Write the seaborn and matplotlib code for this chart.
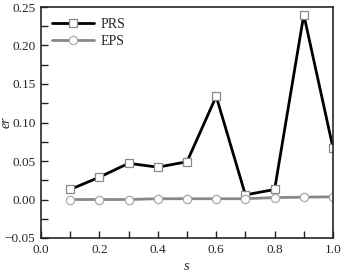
import matplotlib
matplotlib.use("Agg")
import matplotlib.pyplot as plt
import seaborn as sns
import pandas as pd
from matplotlib.ticker import MultipleLocator

s_vals = [0.1, 0.2, 0.3, 0.4, 0.5, 0.6, 0.7, 0.8, 0.9, 1.0]
prs = [0.013, 0.029, 0.047, 0.042, 0.049, 0.134, 0.006, 0.013, 0.240, 0.067]
eps = [0.000, 0.000, 0.000, 0.001, 0.001, 0.001, 0.001, 0.0025, 0.003, 0.0035]

sns.set_style("ticks")
plt.rcParams['font.family'] = ['Liberation Serif', 'DejaVu Serif']

fig = plt.figure(figsize=(3.54, 2.75), dpi=100)
ax = fig.add_axes([41/354, 1-238/275, (333-41)/354, (238-7)/275])

df = pd.DataFrame({"s": s_vals * 2, "er": prs + eps,
                   "method": ["PRS"] * len(s_vals) + ["EPS"] * len(s_vals)})

sns.lineplot(data=df[df.method == "PRS"], x="s", y="er", ax=ax, color="black",
             lw=2, marker="s", markersize=5.5, markerfacecolor="white",
             markeredgecolor="#888888", markeredgewidth=0.9, label="PRS")
sns.lineplot(data=df[df.method == "EPS"], x="s", y="er", ax=ax, color="#888888",
             lw=2, marker="o", markersize=6, markerfacecolor="white",
             markeredgecolor="#aaaaaa", markeredgewidth=0.9, label="EPS")

ax.set_xlim(0.0, 1.0)
ax.set_ylim(-0.05, 0.25)
ax.xaxis.set_major_locator(MultipleLocator(0.2))
ax.xaxis.set_minor_locator(MultipleLocator(0.1))
ax.yaxis.set_major_locator(MultipleLocator(0.05))
ax.yaxis.set_minor_locator(MultipleLocator(0.025))
ax.tick_params(which="both", direction="in", top=False, right=False, labelsize=9.5,
               color="#222222")
ax.tick_params(which="major", length=5, width=1, pad=4)
ax.tick_params(which="minor", length=5, width=1)
for sp in ax.spines.values():
    sp.set_linewidth(1.2)
ax.set_xticklabels([f"{v:.1f}" for v in ax.get_xticks()])
ax.set_yticklabels([f"{v:.2f}".replace("-", "\u2212") for v in ax.get_yticks()])
ax.set_xlabel("s", fontstyle="italic", fontsize=10.5, labelpad=3)
ax.set_ylabel("er", fontstyle="italic", fontsize=10, va="center", ha="center")
ax.yaxis.set_label_coords(-0.12, 0.5)

leg = ax.legend(loc="upper left", frameon=False, fontsize=10, handlelength=3,
                borderaxespad=0.4, handletextpad=0.5, labelspacing=0.3)

fig.savefig("out.png", dpi=100)
